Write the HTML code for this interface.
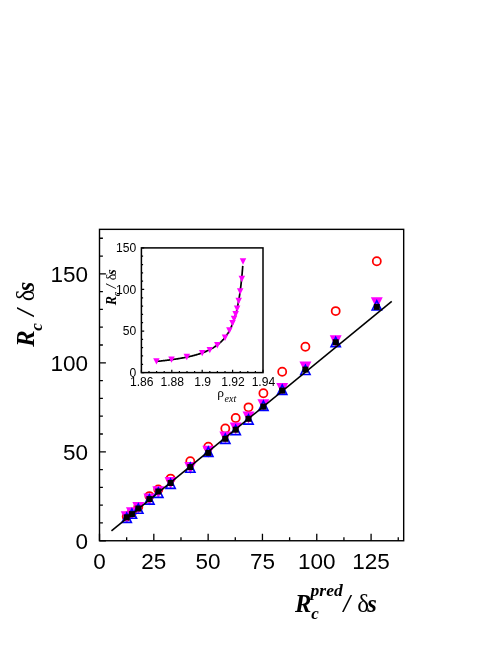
<!DOCTYPE html>
<html><head><meta charset="utf-8"><title>Rc plot</title>
<style>html,body{margin:0;padding:0;background:#fff}svg{display:block;will-change:transform}</style>
</head><body>
<svg width="498" height="645" viewBox="0 0 498 645">
<rect x="0" y="0" width="498" height="645" fill="#fff"/>
<circle cx="126.7" cy="516.5" r="4.05" fill="none" stroke="#f00" stroke-width="1.75"/>
<circle cx="131.9" cy="512.6" r="4.05" fill="none" stroke="#f00" stroke-width="1.75"/>
<circle cx="138.3" cy="507.0" r="4.05" fill="none" stroke="#f00" stroke-width="1.75"/>
<circle cx="149.4" cy="496.1" r="4.05" fill="none" stroke="#f00" stroke-width="1.75"/>
<circle cx="158.3" cy="489.4" r="4.05" fill="none" stroke="#f00" stroke-width="1.75"/>
<circle cx="170.6" cy="478.6" r="4.05" fill="none" stroke="#f00" stroke-width="1.75"/>
<circle cx="190.3" cy="461.2" r="4.05" fill="none" stroke="#f00" stroke-width="1.75"/>
<circle cx="208.3" cy="446.7" r="4.05" fill="none" stroke="#f00" stroke-width="1.75"/>
<circle cx="225.3" cy="428.5" r="4.05" fill="none" stroke="#f00" stroke-width="1.75"/>
<circle cx="235.7" cy="418.0" r="4.05" fill="none" stroke="#f00" stroke-width="1.75"/>
<circle cx="248.5" cy="407.3" r="4.05" fill="none" stroke="#f00" stroke-width="1.75"/>
<circle cx="263.4" cy="393.2" r="4.05" fill="none" stroke="#f00" stroke-width="1.75"/>
<circle cx="282.2" cy="371.7" r="4.05" fill="none" stroke="#f00" stroke-width="1.75"/>
<circle cx="305.4" cy="346.7" r="4.05" fill="none" stroke="#f00" stroke-width="1.75"/>
<circle cx="335.7" cy="311.1" r="4.05" fill="none" stroke="#f00" stroke-width="1.75"/>
<circle cx="376.8" cy="261.2" r="4.05" fill="none" stroke="#f00" stroke-width="1.75"/>
<path d="M120.75 511.30L132.65 511.30L126.70 523.30Z" fill="#f0f"/>
<path d="M125.95 507.30L137.85 507.30L131.90 519.30Z" fill="#f0f"/>
<path d="M132.35 502.00L144.25 502.00L138.30 514.00Z" fill="#f0f"/>
<path d="M143.45 493.40L155.35 493.40L149.40 505.40Z" fill="#f0f"/>
<path d="M152.35 486.20L164.25 486.20L158.30 498.20Z" fill="#f0f"/>
<path d="M164.65 477.00L176.55 477.00L170.60 489.00Z" fill="#f0f"/>
<path d="M184.35 461.90L196.25 461.90L190.30 473.90Z" fill="#f0f"/>
<path d="M202.35 445.80L214.25 445.80L208.30 457.80Z" fill="#f0f"/>
<path d="M219.35 431.60L231.25 431.60L225.30 443.60Z" fill="#f0f"/>
<path d="M229.75 422.60L241.65 422.60L235.70 434.60Z" fill="#f0f"/>
<path d="M242.55 411.50L254.45 411.50L248.50 423.50Z" fill="#f0f"/>
<path d="M257.45 399.20L269.35 399.20L263.40 411.20Z" fill="#f0f"/>
<path d="M276.25 383.00L288.15 383.00L282.20 395.00Z" fill="#f0f"/>
<path d="M299.45 361.60L311.35 361.60L305.40 373.60Z" fill="#f0f"/>
<path d="M329.75 335.30L341.65 335.30L335.70 347.30Z" fill="#f0f"/>
<path d="M370.85 297.30L382.75 297.30L376.80 309.30Z" fill="#f0f"/>
<path d="M122.04 522.40L131.36 522.40L126.70 513.10Z" fill="none" stroke="#00f" stroke-width="1.6" stroke-linejoin="miter"/>
<path d="M127.24 518.30L136.56 518.30L131.90 509.00Z" fill="none" stroke="#00f" stroke-width="1.6" stroke-linejoin="miter"/>
<path d="M133.64 513.30L142.96 513.30L138.30 504.00Z" fill="none" stroke="#00f" stroke-width="1.6" stroke-linejoin="miter"/>
<path d="M144.74 504.10L154.06 504.10L149.40 494.80Z" fill="none" stroke="#00f" stroke-width="1.6" stroke-linejoin="miter"/>
<path d="M153.64 497.40L162.96 497.40L158.30 488.10Z" fill="none" stroke="#00f" stroke-width="1.6" stroke-linejoin="miter"/>
<path d="M165.94 488.40L175.26 488.40L170.60 479.10Z" fill="none" stroke="#00f" stroke-width="1.6" stroke-linejoin="miter"/>
<path d="M185.64 472.30L194.96 472.30L190.30 463.00Z" fill="none" stroke="#00f" stroke-width="1.6" stroke-linejoin="miter"/>
<path d="M203.64 456.35L212.96 456.35L208.30 447.05Z" fill="none" stroke="#00f" stroke-width="1.6" stroke-linejoin="miter"/>
<path d="M220.64 443.40L229.96 443.40L225.30 434.10Z" fill="none" stroke="#00f" stroke-width="1.6" stroke-linejoin="miter"/>
<path d="M231.04 434.60L240.36 434.60L235.70 425.30Z" fill="none" stroke="#00f" stroke-width="1.6" stroke-linejoin="miter"/>
<path d="M243.84 424.10L253.16 424.10L248.50 414.80Z" fill="none" stroke="#00f" stroke-width="1.6" stroke-linejoin="miter"/>
<path d="M258.74 410.40L268.06 410.40L263.40 401.10Z" fill="none" stroke="#00f" stroke-width="1.6" stroke-linejoin="miter"/>
<path d="M277.54 394.40L286.86 394.40L282.20 385.10Z" fill="none" stroke="#00f" stroke-width="1.6" stroke-linejoin="miter"/>
<path d="M300.74 374.50L310.06 374.50L305.40 365.20Z" fill="none" stroke="#00f" stroke-width="1.6" stroke-linejoin="miter"/>
<path d="M331.04 346.60L340.36 346.60L335.70 337.30Z" fill="none" stroke="#00f" stroke-width="1.6" stroke-linejoin="miter"/>
<path d="M372.14 310.00L381.46 310.00L376.80 300.70Z" fill="none" stroke="#00f" stroke-width="1.6" stroke-linejoin="miter"/>
<rect x="123.70" y="514.30" width="6.00" height="6.00" fill="#000"/>
<rect x="128.90" y="511.10" width="6.00" height="6.00" fill="#000"/>
<rect x="135.30" y="505.50" width="6.00" height="6.00" fill="#000"/>
<rect x="146.40" y="496.10" width="6.00" height="6.00" fill="#000"/>
<rect x="155.30" y="488.50" width="6.00" height="6.00" fill="#000"/>
<rect x="167.60" y="480.00" width="6.00" height="6.00" fill="#000"/>
<rect x="187.30" y="464.10" width="6.00" height="6.00" fill="#000"/>
<rect x="205.30" y="449.90" width="6.00" height="6.00" fill="#000"/>
<rect x="222.30" y="435.80" width="6.00" height="6.00" fill="#000"/>
<rect x="232.70" y="426.70" width="6.00" height="6.00" fill="#000"/>
<rect x="245.50" y="415.80" width="6.00" height="6.00" fill="#000"/>
<rect x="260.40" y="403.60" width="6.00" height="6.00" fill="#000"/>
<rect x="279.20" y="387.60" width="6.00" height="6.00" fill="#000"/>
<rect x="302.40" y="366.60" width="6.00" height="6.00" fill="#000"/>
<rect x="332.70" y="339.30" width="6.00" height="6.00" fill="#000"/>
<rect x="373.80" y="303.90" width="6.00" height="6.00" fill="#000"/>
<line x1="111.45" y1="530.96" x2="391.73" y2="301.42" stroke="#000" stroke-width="1.6"/>
<rect x="99.50" y="229.35" width="304.18" height="311.40" fill="none" stroke="#000" stroke-width="1.4"/>
<path d="M99.50 540.75V533.75M126.66 540.75V537.25M153.82 540.75V533.75M180.98 540.75V537.25M208.14 540.75V533.75M235.29 540.75V537.25M262.45 540.75V533.75M289.61 540.75V537.25M316.77 540.75V533.75M343.93 540.75V537.25M371.09 540.75V533.75M398.25 540.75V537.25M99.50 540.75H105.90M99.50 522.96H102.90M99.50 505.16H102.90M99.50 487.37H102.90M99.50 469.57H102.90M99.50 451.78H105.90M99.50 433.98H102.90M99.50 416.19H102.90M99.50 398.40H102.90M99.50 380.60H102.90M99.50 362.81H105.90M99.50 345.01H102.90M99.50 327.22H102.90M99.50 309.42H102.90M99.50 291.63H102.90M99.50 273.84H105.90M99.50 256.04H102.90M99.50 238.25H102.90" stroke="#000" stroke-width="1.3" fill="none"/>
<g font-family="'Liberation Sans', sans-serif" font-size="22.5" fill="#000">
<text x="99.50" y="569.0" text-anchor="middle">0</text>
<text x="153.82" y="569.0" text-anchor="middle">25</text>
<text x="208.14" y="569.0" text-anchor="middle">50</text>
<text x="262.45" y="569.0" text-anchor="middle">75</text>
<text x="316.77" y="569.0" text-anchor="middle">100</text>
<text x="371.09" y="569.0" text-anchor="middle">125</text>
<text x="88" y="548.65" text-anchor="end">0</text>
<text x="88" y="459.68" text-anchor="end">50</text>
<text x="88" y="370.71" text-anchor="end">100</text>
<text x="88" y="281.74" text-anchor="end">150</text>
</g>
<g font-family="'Liberation Serif', serif" font-weight="bold" font-style="italic" fill="#000">
<text x="295" y="611.8" font-size="24.5">R</text>
<text x="311.2" y="618.6" font-size="17">c</text>
<text x="310.6" y="596.2" font-size="17.5">pred</text>
<text x="343.6" y="611.8" font-size="24.5">/</text>
<text x="357.3" y="611.8" font-size="25" font-weight="normal" font-style="normal">δ</text>
<text x="367.3" y="611.8" font-size="24.5">s</text>
<g transform="translate(34.2,346.7) rotate(-90)">
<text x="0" y="0" font-size="24.5">R</text>
<text x="16" y="7.8" font-size="17">c</text>
<text x="31" y="0" font-size="24.5">/</text>
<text x="45.5" y="0" font-size="24.5" font-weight="normal" font-style="normal">δ</text>
<text x="55.5" y="0" font-size="24.5">s</text>
</g>
</g>
<rect x="141.40" y="247.90" width="121.60" height="124.70" fill="#fff" stroke="#000" stroke-width="1.5"/>
<path d="M156.40 361.41L157.02 361.35L157.64 361.29L158.26 361.23L158.89 361.16L159.51 361.10L160.13 361.04L160.75 360.97L161.37 360.91L161.99 360.84L162.61 360.77L163.24 360.70L163.86 360.63L164.48 360.56L165.10 360.49L165.72 360.42L166.34 360.34L166.96 360.27L167.59 360.19L168.21 360.11L168.83 360.04L169.45 359.96L170.07 359.88L170.69 359.79L171.31 359.71L171.94 359.62L172.56 359.54L173.18 359.45L173.80 359.36L174.42 359.27L175.04 359.18L175.66 359.09L176.29 358.99L176.91 358.90L177.53 358.80L178.15 358.70L178.77 358.60L179.39 358.49L180.01 358.39L180.64 358.28L181.26 358.17L181.88 358.06L182.50 357.95L183.12 357.83L183.74 357.72L184.36 357.60L184.99 357.48L185.61 357.35L186.23 357.23L186.85 357.10L187.47 356.97L188.09 356.83L188.71 356.70L189.34 356.56L189.96 356.42L190.58 356.27L191.20 356.12L191.82 355.97L192.44 355.82L193.06 355.66L193.69 355.50L194.31 355.34L194.93 355.17L195.55 355.00L196.17 354.82L196.79 354.64L197.41 354.46L198.04 354.27L198.66 354.08L199.28 353.88L199.90 353.68L200.52 353.47L201.14 353.26L201.77 353.04L202.39 352.82L203.01 352.59L203.63 352.35L204.25 352.11L204.87 351.86L205.49 351.61L206.12 351.35L206.74 351.08L207.36 350.80L207.98 350.52L208.60 350.23L209.22 349.92L209.84 349.61L210.47 349.29L211.09 348.96L211.71 348.62L212.33 348.27L212.95 347.91L213.57 347.53L214.19 347.15L214.82 346.74L215.44 346.33L216.06 345.90L216.68 345.45L217.30 344.99L217.92 344.51L218.54 344.02L219.17 343.50L219.79 342.96L220.41 342.40L221.03 341.82L221.65 341.21L222.27 340.58L222.89 339.92L223.52 339.23L224.14 338.50L224.76 337.75L225.38 336.95L226.00 336.12L226.62 335.24L227.24 334.32L227.87 333.35L228.49 332.32L229.11 331.24L229.73 330.09L230.35 328.87L230.97 327.58L231.59 326.21L232.22 324.74L232.84 323.18L233.46 321.50L234.08 319.70L234.70 317.77L235.32 315.68L235.94 313.41L236.57 310.96L237.19 308.28L237.81 305.35L238.43 302.13L239.05 298.57L239.67 294.62L240.29 290.22L240.92 285.27L241.54 279.68L242.16 273.29L242.78 265.94" fill="none" stroke="#000" stroke-width="1.7"/>
<path d="M153.15 358.15L159.65 358.15L156.40 364.55Z" fill="#f0f"/>
<path d="M168.25 356.45L174.75 356.45L171.50 362.85Z" fill="#f0f"/>
<path d="M183.55 353.75L190.05 353.75L186.80 360.15Z" fill="#f0f"/>
<path d="M198.95 349.95L205.45 349.95L202.20 356.35Z" fill="#f0f"/>
<path d="M206.55 346.95L213.05 346.95L209.80 353.35Z" fill="#f0f"/>
<path d="M214.05 342.05L220.55 342.05L217.30 348.45Z" fill="#f0f"/>
<path d="M221.75 334.55L228.25 334.55L225.00 340.95Z" fill="#f0f"/>
<path d="M226.15 327.25L232.65 327.25L229.40 333.65Z" fill="#f0f"/>
<path d="M229.25 320.05L235.75 320.05L232.50 326.45Z" fill="#f0f"/>
<path d="M230.75 315.65L237.25 315.65L234.00 322.05Z" fill="#f0f"/>
<path d="M232.35 311.05L238.85 311.05L235.60 317.45Z" fill="#f0f"/>
<path d="M233.85 305.55L240.35 305.55L237.10 311.95Z" fill="#f0f"/>
<path d="M235.45 297.85L241.95 297.85L238.70 304.25Z" fill="#f0f"/>
<path d="M236.95 288.25L243.45 288.25L240.20 294.65Z" fill="#f0f"/>
<path d="M238.55 275.85L245.05 275.85L241.80 282.25Z" fill="#f0f"/>
<path d="M239.75 258.35L246.25 258.35L243.00 264.75Z" fill="#f0f"/>
<path d="M141.40 372.60H144.20M141.40 364.29H143.10M141.40 355.97H143.10M141.40 347.66H143.10M141.40 339.35H143.10M141.40 331.03H144.20M141.40 322.72H143.10M141.40 314.41H143.10M141.40 306.09H143.10M141.40 297.78H143.10M141.40 289.47H144.20M141.40 281.15H143.10M141.40 272.84H143.10M141.40 264.53H143.10M141.40 256.21H143.10M141.40 247.90H144.20M141.40 372.60V369.80M149.00 372.60V370.90M156.60 372.60V370.90M164.20 372.60V370.90M171.80 372.60V369.80M179.40 372.60V370.90M187.00 372.60V370.90M194.60 372.60V370.90M202.20 372.60V369.80M209.80 372.60V370.90M217.40 372.60V370.90M225.00 372.60V370.90M232.60 372.60V369.80M240.20 372.60V370.90M247.80 372.60V370.90M255.40 372.60V370.90M263.00 372.60V369.80" stroke="#000" stroke-width="1.2" fill="none"/>
<g font-family="'Liberation Sans', sans-serif" font-size="12.1" fill="#000">
<text x="136.2" y="376.90" text-anchor="end">0</text>
<text x="136.2" y="335.33" text-anchor="end">50</text>
<text x="136.2" y="293.77" text-anchor="end">100</text>
<text x="136.2" y="252.20" text-anchor="end">150</text>
<text x="141.80" y="385.9" text-anchor="middle">1.86</text>
<text x="172.20" y="385.9" text-anchor="middle">1.88</text>
<text x="202.60" y="385.9" text-anchor="middle">1.9</text>
<text x="233.00" y="385.9" text-anchor="middle">1.92</text>
<text x="263.40" y="385.9" text-anchor="middle">1.94</text>
</g>
<g font-family="'Liberation Serif', serif" font-weight="bold" font-style="italic" fill="#000">
<g transform="translate(116,305.2) rotate(-90) scale(0.9,1)">
<text x="0" y="0" font-size="15.4">R</text>
<text x="10.0" y="4.3" font-size="10.8">c</text>
<text x="18.9" y="0" font-size="15.4">/</text>
<text x="27.6" y="0" font-size="15.4" font-weight="normal" font-style="normal">δ</text>
<text x="33.9" y="0" font-size="15.4">s</text>
</g>
<text x="217.3" y="397.4" font-size="13.5" font-weight="normal" font-style="normal">ρ</text>
<text x="224.6" y="401.7" font-size="10" font-weight="normal">ext</text>
</g>
</svg>
</body></html>
